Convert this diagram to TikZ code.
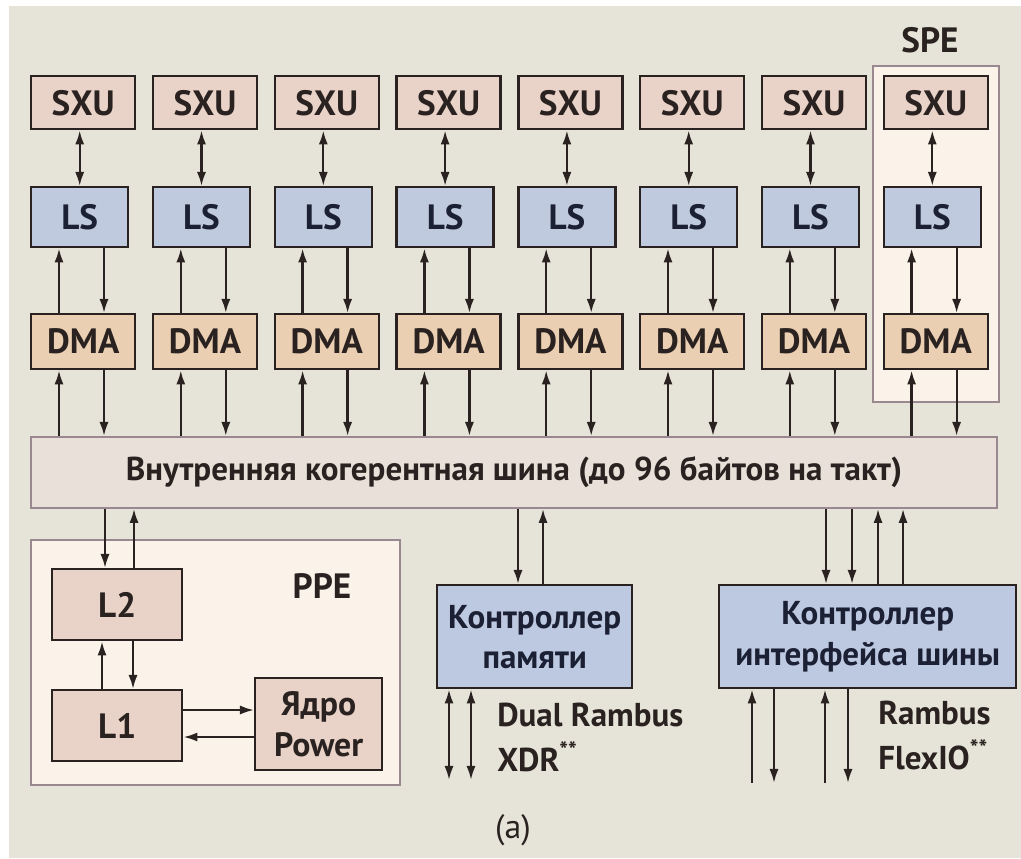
\documentclass[tikz,border=0pt]{standalone}
\usepackage{fontspec}
\setmainfont{PT Sans}
\usetikzlibrary{arrows.meta}
\definecolor{bg}{HTML}{E6E4D8}
\definecolor{ink}{HTML}{2A2220}
\definecolor{navy}{HTML}{1C2034}
\definecolor{sxucol}{HTML}{E9D3C8}
\definecolor{lscol}{HTML}{BFCADF}
\definecolor{dmacol}{HTML}{EBCFB2}
\definecolor{buscol}{HTML}{EAE0DA}
\definecolor{mauve}{HTML}{9A8890}
\definecolor{unitcol}{HTML}{FBF3EA}
\definecolor{ctlcol}{HTML}{BDC9E1}
\begin{document}
\begin{tikzpicture}[x=0.025cm,y=-0.025cm,>={Latex[length=10pt,width=6.5pt]},
every node/.style={inner sep=0pt,text=ink},
blk/.style={draw=ink,line width=1.7pt,anchor=north west,font=\bfseries\fontsize{25}{27}\selectfont},
sxu/.style={blk,fill=sxucol,minimum width=2.6cm,minimum height=1.325cm},
ls/.style={blk,fill=lscol,text=navy,minimum width=2.425cm,minimum height=1.5cm},
dma/.style={blk,fill=dmacol,minimum width=2.6cm,minimum height=1.375cm},
cache/.style={blk,fill=sxucol,minimum width=3.25cm,minimum height=1.775cm},
ctl/.style={blk,fill=ctlcol,text=navy,align=center,minimum height=2.575cm,font=\bfseries\fontsize{23.5}{28.5}\selectfont},
unit/.style={draw=mauve,fill=unitcol,line width=1.6pt,anchor=north west},
tag/.style={font=\bfseries\fontsize{25}{27}\selectfont},
side/.style={anchor=west,font=\bfseries\fontsize{23.5}{26}\selectfont},
lnk/.style={line width=1.6pt,draw=ink}]
\useasboundingbox (0,0) rectangle (1021,858);
\fill[white] (0,0) rectangle (1021,858);
\fill[bg] (9,6) rectangle (1021,858);
\node[unit,minimum width=3.15cm,minimum height=8.4cm] (spe) at (872,65) {};
\node[tag] (spelbl) at (930,40) {SPE};
\node[draw=mauve,fill=buscol,line width=1.3pt,anchor=north west,minimum width=24.15cm,minimum height=1.775cm,font=\bfseries\fontsize{23.5}{26}\selectfont] (bus) at (30,436) {Внутренняя когерентная шина (до 96 байтов на такт)};
\foreach \i in {0,...,7}{
\pgfmathsetmacro\xl{30+121.8*\i}
\node[sxu] (sxu\i) at (\xl,75) {SXU};
\node[ls] (ls\i) at (\xl,186) {LS};
\node[dma] (dma\i) at (\xl,313) {DMA};
\draw[<->,lnk] (ls\i.north) -- (ls\i.north |- sxu\i.south);
\draw[->,lnk] ([xshift=.725cm]dma\i.north west) -- ([xshift=.725cm]ls\i.south west);
\draw[->,lnk] ([xshift=1.85cm]ls\i.south west) -- ([xshift=1.85cm]dma\i.north west);
\draw[<-,lnk] ([xshift=.725cm]dma\i.south west) -- ([xshift=.725cm]dma\i.south west |- bus.north);
\draw[->,lnk] ([xshift=1.85cm]dma\i.south west) -- ([xshift=1.85cm]dma\i.south west |- bus.north);
}
\node[unit,minimum width=9.225cm,minimum height=6.125cm] (ppe) at (30,539) {};
\node[tag] (ppelbl) at (322,586) {PPE};
\node[cache] (l2) at (51,568) {L2};
\node[cache] (l1) at (51,689) {L1};
\node[cache,align=center,minimum width=3.175cm,minimum height=2.3cm,font=\bfseries\fontsize{24}{29}\selectfont] (core) at (254,677) {Ядро\\Power};
\draw[->,lnk] ([xshift=1.35cm]l2.north west |- bus.south) -- ([xshift=1.35cm]l2.north west);
\draw[<-,lnk] ([xshift=2.075cm]l2.north west |- bus.south) -- ([xshift=2.075cm]l2.north west);
\draw[->,lnk] ([xshift=1.275cm]l1.north west) -- ([xshift=1.275cm]l2.south west);
\draw[->,lnk] ([xshift=2.05cm]l2.south west) -- ([xshift=2.05cm]l1.north west);
\draw[->,lnk] ([yshift=-.525cm]l1.north east) -- ([yshift=-.525cm]l1.north east -| core.west);
\draw[<-,lnk] ([yshift=-1.2cm]l1.north east) -- ([yshift=-1.2cm]l1.north east -| core.west);
\node[ctl,minimum width=4.875cm] (mem) at (436,584) {Контроллер\\памяти};
\draw[->,lnk] ([xshift=2.05cm]mem.north west |- bus.south) -- ([xshift=2.05cm]mem.north west);
\draw[<-,lnk] ([xshift=2.675cm]mem.north west |- bus.south) -- ([xshift=2.675cm]mem.north west);
\coordinate (m1) at (449,780);
\coordinate (m2) at (471,780);
\draw[<->,lnk] (m1 |- mem.south) -- (m1);
\draw[<->,lnk] (m2 |- mem.south) -- (m2);
\node[side] (xdr1) at (497,715) {Dual Rambus};
\node[side] (xdr2) at (497,757) {XDR\textsuperscript{**}};
\node[ctl,minimum width=7.425cm] (bif) at (718,584) {Контроллер\\интерфейса шины};
\draw[->,lnk] ([xshift=2.7cm]bif.north west |- bus.south) -- ([xshift=2.7cm]bif.north west);
\draw[->,lnk] ([xshift=3.35cm]bif.north west |- bus.south) -- ([xshift=3.35cm]bif.north west);
\draw[<-,lnk] ([xshift=4cm]bif.north west |- bus.south) -- ([xshift=4cm]bif.north west);
\draw[<-,lnk] ([xshift=4.625cm]bif.north west |- bus.south) -- ([xshift=4.625cm]bif.north west);
\coordinate (f1) at (752,783);
\coordinate (f2) at (774,783);
\coordinate (f3) at (825,783);
\coordinate (f4) at (848,783);
\draw[->,lnk] (f1) -- (f1 |- bif.south);
\draw[->,lnk] (f2 |- bif.south) -- (f2);
\draw[->,lnk] (f3) -- (f3 |- bif.south);
\draw[->,lnk] (f4 |- bif.south) -- (f4);
\node[side] (flex1) at (878,713) {Rambus};
\node[side] (flex2) at (878,755) {FlexIO\textsuperscript{**}};
\node[font=\fontsize{24}{26}\selectfont] (cap) at (513,830) {(a)};
\end{tikzpicture}
\end{document}
